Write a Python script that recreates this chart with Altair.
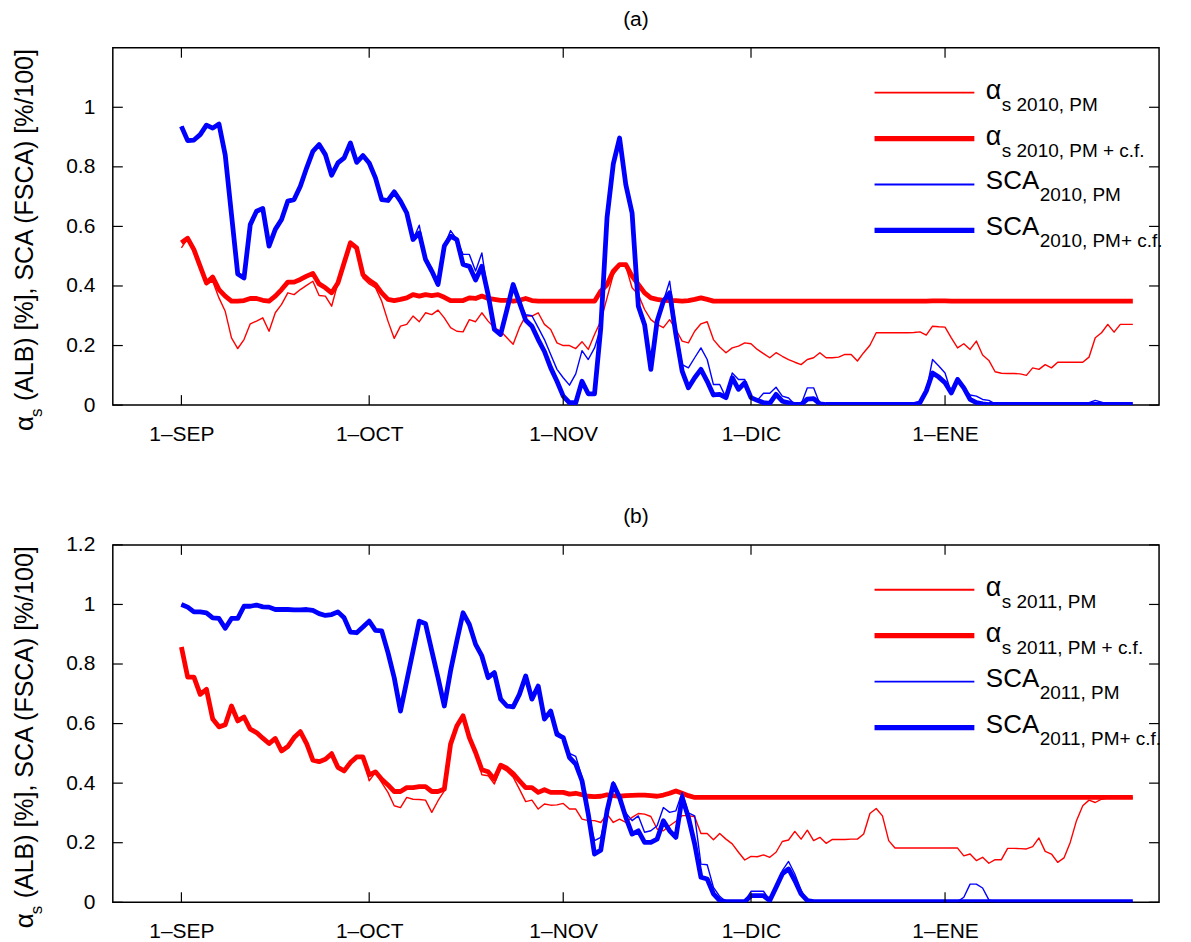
import altair as alt
import pandas as pd

# ---------------- data ----------------
DAYS = list(range(153))  # day index, 0 = 1-SEP
TICK_DAYS = [0, 30, 61, 91, 122]
TICK_NAMES = ["1–SEP", "1–OCT", "1–NOV", "1–DIC", "1–ENE"]
Y_TICKS_A = [0, 0.2, 0.4, 0.6, 0.8, 1.0]
Y_TICKS_B = [0, 0.2, 0.4, 0.6, 0.8, 1.0, 1.2]

A_ALB_PM = [
    0.528, 0.559, 0.519, 0.466, 0.405, 0.416, 0.360, 0.315, 0.226, 0.190,
    0.220, 0.273, 0.282, 0.293, 0.248, 0.310, 0.338, 0.377, 0.371, 0.388,
    0.402, 0.416, 0.368, 0.366, 0.332, 0.410, 0.478, 0.545, 0.528, 0.427,
    0.407, 0.394, 0.349, 0.282, 0.224, 0.265, 0.271, 0.299, 0.280, 0.310,
    0.304, 0.319, 0.293, 0.260, 0.248, 0.246, 0.287, 0.280, 0.310, 0.282,
    0.260, 0.248, 0.226, 0.204, 0.260, 0.300, 0.299, 0.310, 0.271, 0.254,
    0.209, 0.200, 0.200, 0.190, 0.213, 0.187, 0.237, 0.282, 0.360, 0.438,
    0.466, 0.466, 0.394, 0.371, 0.321, 0.287, 0.271, 0.260, 0.287, 0.254,
    0.215, 0.209, 0.248, 0.273, 0.280, 0.220, 0.195, 0.176, 0.192, 0.198,
    0.209, 0.206, 0.187, 0.173, 0.159, 0.176, 0.164, 0.153, 0.144, 0.136,
    0.153, 0.159, 0.176, 0.159, 0.159, 0.161, 0.170, 0.170, 0.148, 0.176,
    0.201, 0.243, 0.243, 0.243, 0.243, 0.243, 0.243, 0.244, 0.246, 0.235,
    0.265, 0.263, 0.262, 0.226, 0.192, 0.206, 0.187, 0.215, 0.168, 0.150,
    0.112, 0.107, 0.106, 0.106, 0.105, 0.100, 0.125, 0.120, 0.136, 0.125,
    0.144, 0.144, 0.144, 0.144, 0.144, 0.161, 0.226, 0.243, 0.271, 0.245,
    0.271, 0.271, 0.271,
]
A_ALB_CF = [
    0.545, 0.560, 0.522, 0.466, 0.410, 0.430, 0.388, 0.366, 0.349, 0.349,
    0.351, 0.358, 0.358, 0.352, 0.349, 0.366, 0.388, 0.413, 0.413, 0.422,
    0.433, 0.442, 0.407, 0.394, 0.377, 0.410, 0.478, 0.545, 0.528, 0.438,
    0.419, 0.405, 0.377, 0.355, 0.351, 0.355, 0.360, 0.371, 0.366, 0.371,
    0.368, 0.371, 0.362, 0.351, 0.351, 0.351, 0.360, 0.358, 0.366, 0.358,
    0.355, 0.352, 0.352, 0.349, 0.352, 0.358, 0.351, 0.349, 0.349, 0.349,
    0.349, 0.349, 0.349, 0.349, 0.349, 0.349, 0.349, 0.383, 0.405, 0.450,
    0.472, 0.472, 0.433, 0.405, 0.377, 0.360, 0.355, 0.352, 0.351, 0.351,
    0.349, 0.351, 0.355, 0.360, 0.355, 0.349, 0.349, 0.349, 0.349, 0.349,
    0.349, 0.349, 0.349, 0.349, 0.349, 0.349, 0.349, 0.349, 0.349, 0.349,
    0.349, 0.349, 0.349, 0.349, 0.349, 0.349, 0.349, 0.349, 0.349, 0.349,
    0.349, 0.349, 0.349, 0.349, 0.349, 0.349, 0.349, 0.349, 0.349, 0.349,
    0.350, 0.350, 0.350, 0.349, 0.349, 0.349, 0.349, 0.349, 0.349, 0.349,
    0.349, 0.349, 0.349, 0.349, 0.349, 0.349, 0.349, 0.349, 0.349, 0.349,
    0.349, 0.349, 0.349, 0.349, 0.349, 0.349, 0.349, 0.349, 0.349, 0.349,
    0.349, 0.349, 0.349,
]
A_SCA_PM = [
    0.936, 0.888, 0.890, 0.908, 0.940, 0.930, 0.944, 0.840, 0.640, 0.440,
    0.427, 0.606, 0.651, 0.660, 0.534, 0.590, 0.623, 0.685, 0.690, 0.735,
    0.796, 0.852, 0.875, 0.841, 0.772, 0.813, 0.830, 0.880, 0.815, 0.838,
    0.813, 0.763, 0.690, 0.687, 0.716, 0.685, 0.645, 0.556, 0.604, 0.489,
    0.460, 0.405, 0.534, 0.586, 0.556, 0.506, 0.506, 0.450, 0.511, 0.371,
    0.254, 0.237, 0.320, 0.405, 0.345, 0.304, 0.300, 0.260, 0.220, 0.170,
    0.120, 0.092, 0.067, 0.105, 0.183, 0.153, 0.192, 0.260, 0.630, 0.810,
    0.897, 0.740, 0.645, 0.332, 0.270, 0.120, 0.282, 0.349, 0.416, 0.260,
    0.136, 0.125, 0.159, 0.192, 0.153, 0.069, 0.069, 0.025, 0.108, 0.086,
    0.086, 0.025, 0.016, 0.040, 0.040, 0.060, 0.030, 0.024, 0.002, 0.002,
    0.058, 0.058, 0.004, 0.002, 0.002, 0.002, 0.002, 0.002, 0.002, 0.002,
    0.002, 0.002, 0.002, 0.002, 0.002, 0.002, 0.002, 0.002, 0.008, 0.047,
    0.153, 0.131, 0.108, 0.041, 0.092, 0.058, 0.034, 0.030, 0.019, 0.016,
    0.004, 0.002, 0.002, 0.002, 0.002, 0.002, 0.002, 0.002, 0.002, 0.002,
    0.002, 0.002, 0.002, 0.002, 0.002, 0.008, 0.016, 0.010, 0.002, 0.002,
    0.002, 0.002, 0.002,
]
A_SCA_CF = [
    0.936, 0.888, 0.890, 0.908, 0.940, 0.930, 0.944, 0.840, 0.640, 0.440,
    0.427, 0.606, 0.651, 0.660, 0.534, 0.590, 0.623, 0.685, 0.690, 0.735,
    0.796, 0.852, 0.875, 0.841, 0.772, 0.813, 0.830, 0.880, 0.815, 0.838,
    0.813, 0.763, 0.690, 0.687, 0.716, 0.685, 0.645, 0.556, 0.578, 0.489,
    0.450, 0.405, 0.534, 0.567, 0.556, 0.472, 0.466, 0.420, 0.466, 0.371,
    0.254, 0.237, 0.320, 0.405, 0.345, 0.285, 0.265, 0.220, 0.180, 0.125,
    0.080, 0.030, 0.008, 0.008, 0.080, 0.038, 0.038, 0.260, 0.630, 0.810,
    0.897, 0.740, 0.645, 0.332, 0.270, 0.120, 0.282, 0.349, 0.377, 0.237,
    0.114, 0.058, 0.092, 0.120, 0.080, 0.034, 0.036, 0.025, 0.092, 0.053,
    0.075, 0.025, 0.016, 0.008, 0.006, 0.036, 0.013, 0.008, 0.002, 0.002,
    0.020, 0.022, 0.004, 0.002, 0.002, 0.002, 0.002, 0.002, 0.002, 0.002,
    0.002, 0.002, 0.002, 0.002, 0.002, 0.002, 0.002, 0.002, 0.008, 0.047,
    0.108, 0.094, 0.075, 0.041, 0.086, 0.058, 0.019, 0.008, 0.004, 0.002,
    0.002, 0.002, 0.002, 0.002, 0.002, 0.002, 0.002, 0.002, 0.002, 0.002,
    0.002, 0.002, 0.002, 0.002, 0.002, 0.002, 0.002, 0.002, 0.002, 0.002,
    0.002, 0.002, 0.002,
]

B_ALB_PM = [
    0.857, 0.756, 0.756, 0.698, 0.715, 0.615, 0.589, 0.596, 0.659, 0.609,
    0.622, 0.581, 0.570, 0.551, 0.533, 0.550, 0.508, 0.523, 0.553, 0.573,
    0.533, 0.477, 0.472, 0.480, 0.499, 0.453, 0.441, 0.469, 0.488, 0.488,
    0.408, 0.436, 0.402, 0.369, 0.324, 0.318, 0.352, 0.346, 0.345, 0.343,
    0.302, 0.341, 0.374, 0.531, 0.592, 0.626, 0.553, 0.500, 0.428, 0.425,
    0.397, 0.453, 0.440, 0.420, 0.380, 0.338, 0.343, 0.313, 0.330, 0.326,
    0.327, 0.332, 0.313, 0.313, 0.279, 0.274, 0.274, 0.268, 0.296, 0.268,
    0.279, 0.268, 0.285, 0.298, 0.296, 0.288, 0.246, 0.240, 0.257, 0.272,
    0.291, 0.291, 0.287, 0.231, 0.231, 0.210, 0.231, 0.212, 0.196, 0.168,
    0.142, 0.154, 0.153, 0.159, 0.151, 0.168, 0.204, 0.209, 0.238, 0.212,
    0.242, 0.207, 0.218, 0.198, 0.211, 0.211, 0.211, 0.212, 0.212, 0.229,
    0.298, 0.315, 0.290, 0.207, 0.182, 0.182, 0.182, 0.182, 0.182, 0.182,
    0.182, 0.182, 0.182, 0.182, 0.182, 0.156, 0.162, 0.140, 0.151, 0.131,
    0.143, 0.143, 0.181, 0.181, 0.180, 0.179, 0.187, 0.216, 0.171, 0.162,
    0.134, 0.149, 0.201, 0.274, 0.324, 0.343, 0.335, 0.346, 0.350, 0.350,
    0.350, 0.350, 0.350,
]
B_ALB_CF = [
    0.857, 0.756, 0.756, 0.698, 0.715, 0.615, 0.589, 0.596, 0.659, 0.609,
    0.622, 0.581, 0.570, 0.551, 0.533, 0.550, 0.508, 0.523, 0.553, 0.573,
    0.533, 0.477, 0.472, 0.480, 0.499, 0.453, 0.441, 0.469, 0.488, 0.488,
    0.428, 0.438, 0.413, 0.394, 0.372, 0.372, 0.385, 0.385, 0.388, 0.388,
    0.372, 0.372, 0.380, 0.531, 0.592, 0.626, 0.553, 0.503, 0.445, 0.438,
    0.413, 0.460, 0.450, 0.432, 0.408, 0.385, 0.385, 0.369, 0.378, 0.369,
    0.369, 0.369, 0.363, 0.366, 0.361, 0.356, 0.355, 0.356, 0.361, 0.358,
    0.356, 0.358, 0.359, 0.360, 0.360, 0.358, 0.356, 0.360, 0.366, 0.374,
    0.366, 0.358, 0.352, 0.352, 0.352, 0.352, 0.352, 0.352, 0.352, 0.352,
    0.352, 0.352, 0.352, 0.352, 0.352, 0.352, 0.352, 0.352, 0.352, 0.352,
    0.352, 0.352, 0.352, 0.352, 0.352, 0.352, 0.352, 0.352, 0.352, 0.352,
    0.352, 0.352, 0.352, 0.352, 0.352, 0.352, 0.352, 0.352, 0.352, 0.352,
    0.352, 0.352, 0.352, 0.352, 0.352, 0.352, 0.352, 0.352, 0.352, 0.352,
    0.352, 0.352, 0.352, 0.352, 0.352, 0.352, 0.352, 0.352, 0.352, 0.352,
    0.352, 0.352, 0.352, 0.352, 0.352, 0.352, 0.352, 0.352, 0.352, 0.352,
    0.352, 0.352, 0.352,
]
B_SCA_PM = [
    1.000, 0.991, 0.975, 0.975, 0.972, 0.955, 0.953, 0.920, 0.953, 0.953,
    0.994, 0.994, 0.998, 0.992, 0.991, 0.983, 0.983, 0.983, 0.982, 0.982,
    0.983, 0.980, 0.969, 0.963, 0.966, 0.975, 0.955, 0.907, 0.905, 0.924,
    0.944, 0.913, 0.911, 0.838, 0.754, 0.642, 0.743, 0.844, 0.944, 0.935,
    0.844, 0.754, 0.659, 0.777, 0.877, 0.972, 0.933, 0.866, 0.827, 0.754,
    0.771, 0.682, 0.659, 0.656, 0.698, 0.760, 0.682, 0.726, 0.625, 0.642,
    0.575, 0.553, 0.500, 0.490, 0.420, 0.296, 0.207, 0.218, 0.307, 0.405,
    0.352, 0.300, 0.274, 0.290, 0.235, 0.240, 0.257, 0.318, 0.302, 0.307,
    0.369, 0.300, 0.290, 0.128, 0.126, 0.050, 0.020, 0.002, 0.002, 0.002,
    0.002, 0.037, 0.037, 0.037, 0.006, 0.050, 0.106, 0.137, 0.095, 0.040,
    0.006, 0.002, 0.002, 0.002, 0.002, 0.002, 0.002, 0.002, 0.002, 0.002,
    0.002, 0.002, 0.002, 0.002, 0.002, 0.002, 0.002, 0.002, 0.002, 0.002,
    0.002, 0.002, 0.002, 0.002, 0.002, 0.017, 0.061, 0.061, 0.048, 0.008,
    0.002, 0.002, 0.002, 0.002, 0.002, 0.002, 0.002, 0.002, 0.002, 0.002,
    0.002, 0.002, 0.002, 0.002, 0.002, 0.002, 0.002, 0.002, 0.002, 0.002,
    0.002, 0.002, 0.002,
]
B_SCA_CF = [
    1.000, 0.991, 0.975, 0.975, 0.972, 0.955, 0.953, 0.920, 0.953, 0.953,
    0.994, 0.994, 0.998, 0.992, 0.991, 0.983, 0.983, 0.983, 0.982, 0.982,
    0.983, 0.980, 0.969, 0.963, 0.966, 0.975, 0.955, 0.907, 0.905, 0.924,
    0.944, 0.913, 0.911, 0.838, 0.754, 0.642, 0.743, 0.844, 0.944, 0.935,
    0.844, 0.754, 0.659, 0.777, 0.877, 0.972, 0.933, 0.866, 0.827, 0.754,
    0.771, 0.682, 0.659, 0.656, 0.698, 0.760, 0.682, 0.726, 0.615, 0.642,
    0.564, 0.553, 0.486, 0.464, 0.408, 0.296, 0.162, 0.175, 0.307, 0.397,
    0.352, 0.285, 0.229, 0.240, 0.201, 0.201, 0.212, 0.274, 0.240, 0.218,
    0.352, 0.285, 0.196, 0.084, 0.078, 0.028, 0.006, 0.002, 0.002, 0.002,
    0.002, 0.022, 0.022, 0.022, 0.006, 0.050, 0.095, 0.112, 0.073, 0.028,
    0.006, 0.002, 0.002, 0.002, 0.002, 0.002, 0.002, 0.002, 0.002, 0.002,
    0.002, 0.002, 0.002, 0.002, 0.002, 0.002, 0.002, 0.002, 0.002, 0.002,
    0.002, 0.002, 0.002, 0.002, 0.002, 0.002, 0.002, 0.002, 0.002, 0.002,
    0.002, 0.002, 0.002, 0.002, 0.002, 0.002, 0.002, 0.002, 0.002, 0.002,
    0.002, 0.002, 0.002, 0.002, 0.002, 0.002, 0.002, 0.002, 0.002, 0.002,
    0.002, 0.002, 0.002,
]

LEG_MAIN = ["α", "α", "SCA", "SCA"]
LEG_SUB_A = ["s 2010, PM", "s 2010, PM + c.f.", "2010, PM", "2010, PM+ c.f."]
LEG_SUB_B = ["s 2011, PM", "s 2011, PM + c.f.", "2011, PM", "2011, PM+ c.f."]
PANEL_TITLES = ["(a)", "(b)"]
YTITLE_PARTS = ["α", "s", "(ALB) [%], SCA (FSCA) [%/100]"]

# ---------------- layout / style ----------------
FONT = "Liberation Sans"
W, H = 1048, 358
XDOM = [-10.96, 156.19]
RED, BLUE = "#ff0000", "#0000ff"
THIN, THICK = 1.4, 4.8
STYLES = [(RED, THIN), (RED, THICK), (BLUE, THIN), (BLUE, THICK)]

label_expr = " : ".join(
    f"datum.value == {d} ? '{n}'" for d, n in zip(TICK_DAYS, TICK_NAMES)
) + " : ''"


def one_row(col, val):
    return pd.DataFrame({col: [val]})


def panel(series, sub_labels, yticks, title, first):
    xscale = alt.Scale(domain=XDOM, nice=False, zero=False)
    yscale = alt.Scale(domain=[0, 1.2], nice=False, zero=False)
    xaxis = alt.Axis(values=TICK_DAYS, labelExpr=label_expr, title=None)
    yaxis = alt.Axis(values=yticks, format=".1~f", title=None)
    xenc = alt.X("day:Q", scale=xscale, axis=xaxis)
    yenc = alt.Y("value:Q", scale=yscale, axis=yaxis)
    layers = []
    for vals, (col, sw) in zip(series, STYLES):
        df = pd.DataFrame({"day": DAYS, "value": vals})
        layers.append(alt.Chart(df).mark_line(color=col, strokeWidth=sw, clip=True,
                                              strokeJoin="round").encode(x=xenc, y=yenc))
    # inward ticks (box style)
    tx = pd.DataFrame({"day": TICK_DAYS})
    ty = pd.DataFrame({"value": yticks})
    for y1, y2 in [(H, H - 10), (0, 10)]:
        layers.append(alt.Chart(tx).mark_rule(color="black", strokeWidth=1.2).encode(
            x=xenc, y=alt.value(y1), y2=alt.value(y2)))
    for x1, x2 in [(0, 10), (W, W - 10)]:
        layers.append(alt.Chart(ty).mark_rule(color="black", strokeWidth=1.2).encode(
            y=yenc, x=alt.value(x1), x2=alt.value(x2)))
    # legend
    rows = [45, 91, 137, 183]
    for i, ((col, sw), ry) in enumerate(zip(STYLES, rows)):
        layers.append(alt.Chart(one_row("k", 0)).mark_rule(color=col, strokeWidth=sw + 0.5).encode(
            x=alt.value(763), x2=alt.value(863), y=alt.value(ry)))
        if LEG_MAIN[i] == "α":
            layers.append(alt.Chart(one_row("txt", LEG_MAIN[i])).mark_text(
                align="left", baseline="alphabetic", font=FONT, fontSize=27, color="black").encode(
                x=alt.value(874.5), y=alt.value(ry + 6), text="txt:N"))
            layers.append(alt.Chart(one_row("txt", sub_labels[i])).mark_text(
                align="left", baseline="alphabetic", font=FONT, fontSize=19, color="black").encode(
                x=alt.value(890.5), y=alt.value(ry + 18), text="txt:N"))
        else:
            layers.append(alt.Chart(one_row("txt", LEG_MAIN[i])).mark_text(
                align="left", baseline="alphabetic", font=FONT, fontSize=26, color="black").encode(
                x=alt.value(874.5), y=alt.value(ry + 5), text="txt:N"))
            layers.append(alt.Chart(one_row("txt", sub_labels[i])).mark_text(
                align="left", baseline="alphabetic", font=FONT, fontSize=19, color="black").encode(
                x=alt.value(928.5), y=alt.value(ry + 17), text="txt:N"))
    # panel title
    layers.append(alt.Chart(one_row("txt", title)).mark_text(
        align="center", baseline="middle", font=FONT, fontSize=21, color="black").encode(
        x=alt.value(W / 2), y=alt.value(-28), text="txt:N"))
    # y-axis title, rotated, with subscript
    y0 = 384
    layers.append(alt.Chart(one_row("txt", YTITLE_PARTS[0])).mark_text(
        align="left", baseline="alphabetic", angle=270, font=FONT, fontSize=26, color="black").encode(
        x=alt.value(-80), y=alt.value(y0), text="txt:N"))
    layers.append(alt.Chart(one_row("txt", YTITLE_PARTS[1])).mark_text(
        align="left", baseline="alphabetic", angle=270, font=FONT, fontSize=17, color="black").encode(
        x=alt.value(-71), y=alt.value(y0 - 14), text="txt:N"))
    layers.append(alt.Chart(one_row("txt", YTITLE_PARTS[2])).mark_text(
        align="left", baseline="alphabetic", angle=270, font=FONT, fontSize=25, color="black").encode(
        x=alt.value(-80), y=alt.value(y0 - 30), text="txt:N"))
    # invisible anchors fixing the page bounds
    if first:
        layers.append(alt.Chart(one_row("k", 0)).mark_rule(opacity=0).encode(
            x=alt.value(-112), x2=alt.value(-111), y=alt.value(-46)))
    else:
        layers.append(alt.Chart(one_row("k", 0)).mark_rule(opacity=0).encode(
            x=alt.value(W + 30), x2=alt.value(W + 31), y=alt.value(H + 39)))
    return alt.layer(*layers).properties(width=W, height=H)


pa = panel([A_ALB_PM, A_ALB_CF, A_SCA_PM, A_SCA_CF], LEG_SUB_A, Y_TICKS_A, PANEL_TITLES[0], True)
pb = panel([B_ALB_PM, B_ALB_CF, B_SCA_PM, B_SCA_CF], LEG_SUB_B, Y_TICKS_B, PANEL_TITLES[1], False)

chart = alt.vconcat(pa, pb, spacing=140, bounds="flush").properties(
    padding={"left": 0, "top": 0, "right": 0, "bottom": 0}
).configure_view(
    stroke="black", strokeWidth=1.5
).configure_axis(
    grid=False, domain=False, ticks=False, tickSize=0,
    labelFont=FONT, labelFontSize=21, labelColor="black"
).configure_axisX(labelPadding=18).configure_axisY(labelPadding=18)

chart.save("out.html", embed_options={"renderer": "svg", "actions": False})
